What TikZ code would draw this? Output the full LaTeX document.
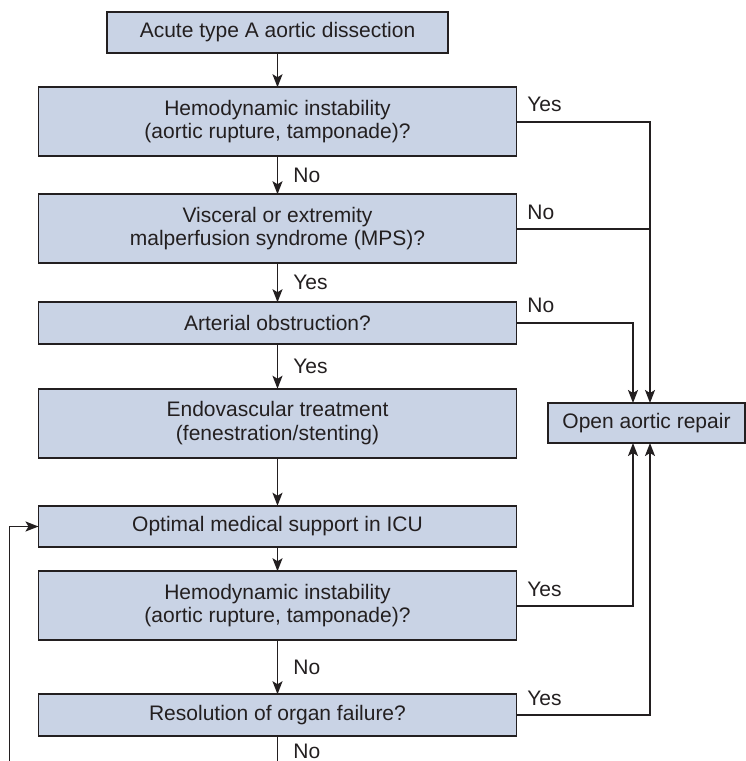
\documentclass[tikz,border=0pt]{standalone}
\usepackage{fontspec}
\setmainfont{Liberation Sans}
\usepackage{xcolor}
\usetikzlibrary{positioning}
\usetikzlibrary{calc}
\usetikzlibrary{arrows.meta}

\definecolor{boxfill}{RGB}{201,211,229}
\definecolor{ink}{RGB}{35,31,32}

\begin{document}
\begin{tikzpicture}[
                x=1pt, y=1pt,
                every node/.style={font=\fontsize{21}{23.5}\selectfont, text=ink},
                box/.style={rectangle, draw=ink, fill=boxfill, line width=1.8pt, outer sep=0pt,
                            minimum width=478pt, align=center, inner sep=2pt},
                tall/.style={box, minimum height=69pt},
                short/.style={box, minimum height=41.5pt},
                lbl/.style={inner sep=0pt},
                lblR/.style={lbl, anchor=south west, xshift=10pt, yshift=9pt},
                arr/.style={-{Stealth[length=13pt, width=10pt, inset=3pt]}, draw=ink, line width=1.7pt},
                conn/.style={draw=ink, line width=1.7pt}
            ]
            \useasboundingbox (0,0) rectangle (746,-761);
            % Nodes
            \node[short, minimum width=341pt] (start) at (277.5,-32.5) {Acute type A aortic dissection};
            \node[tall, below=34pt of start] (hemo1) {Hemodynamic instability\\(aortic rupture, tamponade)?};
            \node[tall, below=38pt of hemo1] (malperf) {Visceral or extremity\\malperfusion syndrome (MPS)?};
            \node[short, below=39pt of malperf] (obstr) {Arterial obstruction?};
            \node[tall, below=45pt of obstr] (endo) {Endovascular treatment\\(fenestration/stenting)};
            \node[short, below=48pt of endo] (icu) {Optimal medical support in ICU};
            \node[tall, below=24pt of icu] (hemo2) {Hemodynamic instability\\(aortic rupture, tamponade)?};
            \node[short, below=54pt of hemo2] (resol) {Resolution of organ failure?};
            \node[box, minimum width=197pt, minimum height=40pt] (repair) at (646.5,-423) {Open aortic repair};
            % entry points on the repair box
            \coordinate (outerN) at ([xshift=3.5pt]repair.north);
            \coordinate (innerN) at ([xshift=-13.5pt]repair.north);
            \coordinate (outerS) at ([xshift=3.5pt]repair.south);
            \coordinate (innerS) at ([xshift=-13.5pt]repair.south);
            % free ends at the bottom edge
            \coordinate (loopEnd) at (9.5,-761);
            \coordinate (resolEnd) at (resol.south |- loopEnd);
            % Arrows
            \draw[arr] (start) -- (hemo1);
            \draw[arr] (hemo1) -- node[lbl, right=15pt] {No} (malperf);
            \draw[arr] (malperf) -- node[lbl, right=15pt] {Yes} (obstr);
            \draw[arr] (obstr) -- node[lbl, right=15pt] {Yes} (endo);
            \draw[arr] (endo) -- (icu);
            \draw[arr] (icu) -- (hemo2);
            \draw[arr] (hemo2) -- node[lbl, right=15pt] {No} (resol);
            \draw[conn] (resol) -- node[lbl, right=15pt, pos=0.6] {No} (resolEnd);
            \draw[arr] (loopEnd) |- (icu.west);
            % to open repair
            \draw[arr] (hemo1.east) node[lblR] {Yes} -| (outerN);
            \draw[conn] (malperf.east) node[lblR, yshift=-1pt] {No} -- (malperf.east -| outerN);
            \draw[arr] (obstr.east) node[lblR] {No} -| (innerN);
            \draw[arr] (hemo2.east) node[lblR, yshift=-1pt] {Yes} -| (innerS);
            \draw[arr] (resol.east) node[lblR, yshift=-1pt] {Yes} -| (outerS);
            
            \end{tikzpicture}
\end{document}
